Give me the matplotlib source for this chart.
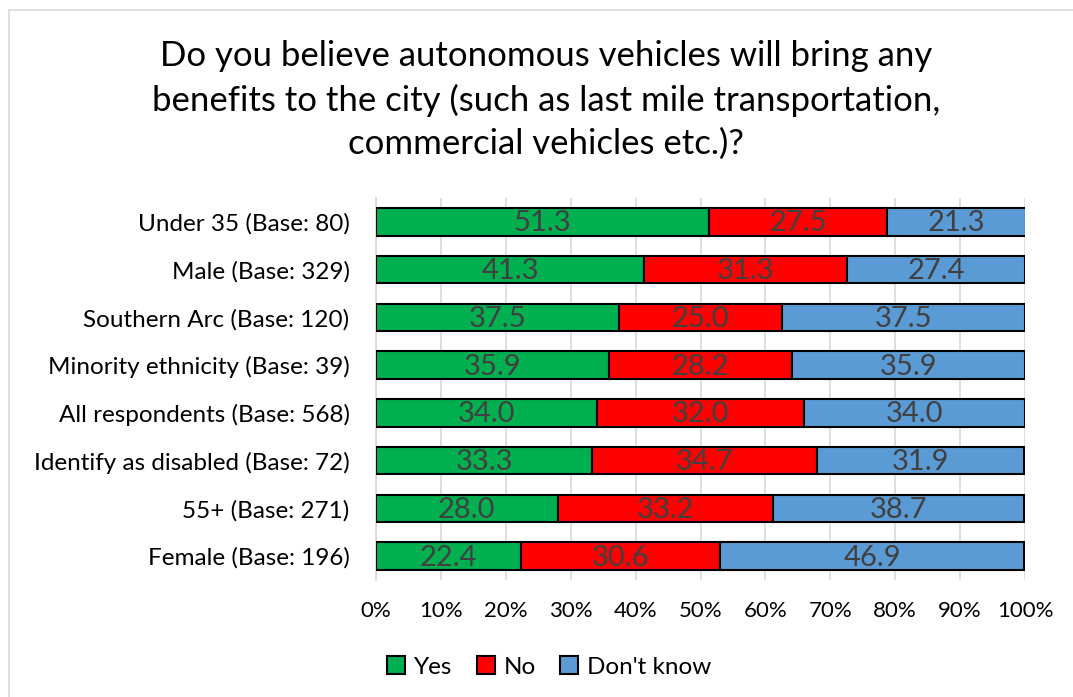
import matplotlib.pyplot as plt
from matplotlib.patches import Rectangle
import numpy as np

categories = [
    "Under 35 (Base: 80)",
    "Male (Base: 329)",
    "Southern Arc (Base: 120)",
    "Minority ethnicity (Base: 39)",
    "All respondents (Base: 568)",
    "Identify as disabled (Base: 72)",
    "55+ (Base: 271)",
    "Female (Base: 196)",
]
yes = [51.3, 41.3, 37.5, 35.9, 34.0, 33.3, 28.0, 22.4]
no = [27.5, 31.3, 25.0, 28.2, 32.0, 34.7, 33.2, 30.6]
dont_know = [21.3, 27.4, 37.5, 35.9, 34.0, 31.9, 38.7, 46.9]
series_names = ["Yes", "No", "Don't know"]
colors = ["#00B050", "#FF0000", "#5B9BD5"]
ticks = [0, 10, 20, 30, 40, 50, 60, 70, 80, 90, 100]

plt.rcParams['font.family'] = ['Lato', 'DejaVu Sans']

fig = plt.figure(figsize=(10.73, 6.97), dpi=100)
# outer chart border
fig.patches.append(Rectangle((9 / 1073, -0.1), 1.2, 1 - 10 / 697 + 0.1,
                             transform=fig.transFigure, fill=False,
                             edgecolor="#d9d9d9", linewidth=1.2))

ax = fig.add_axes([376 / 1073, 1 - 580 / 697, (1025 - 376) / 1073, (580 - 198) / 697])

y = np.arange(len(categories))
values = [yes, no, dont_know]
left = np.zeros(len(categories))
for name, vals, col in zip(series_names, values, colors):
    vals = np.array(vals)
    ax.barh(y, vals, left=left, height=0.58, color=col, edgecolor="black",
            linewidth=1.5, label=name, zorder=3)
    for yi, (l, v) in enumerate(zip(left, vals)):
        ax.text(l + v / 2, yi + 0.03, f"{v:.1f}", ha="center", va="center",
                fontsize=21, color="#404040", zorder=4)
    left = left + vals

ax.set_ylim(len(categories) - 0.5, -0.5)
ax.set_xlim(0, 100)
ax.set_yticks(y)
ax.set_yticklabels(categories, fontsize=17.5, color="black")
ax.set_xticks(ticks)
ax.set_xticklabels([f"{t}%" for t in ticks], fontsize=16, color="black")
ax.tick_params(axis="both", length=0)
ax.tick_params(axis="y", pad=19)
ax.tick_params(axis="x", pad=15)
ax.grid(axis="x", color="#d9d9d9", linewidth=1.2, zorder=0)
for s in ["top", "right", "bottom"]:
    ax.spines[s].set_visible(False)
ax.spines["left"].set_color("#d9d9d9")
ax.spines["left"].set_linewidth(1.2)

fig.text(546 / 1073, 1 - 100 / 697,
         "Do you believe autonomous vehicles will bring any\n"
         "benefits to the city (such as last mile transportation,\n"
         "commercial vehicles etc.)?",
         ha="center", va="center", fontsize=25, linespacing=1.42)

leg = fig.legend(loc="center", bbox_to_anchor=(549 / 1073, 1 - 667 / 697),
                 ncol=3, frameon=False, fontsize=17.5, handlelength=0.75,
                 handleheight=0.75, handletextpad=0.35, columnspacing=1.0)

fig.savefig("out.png", dpi=100, facecolor="white")
